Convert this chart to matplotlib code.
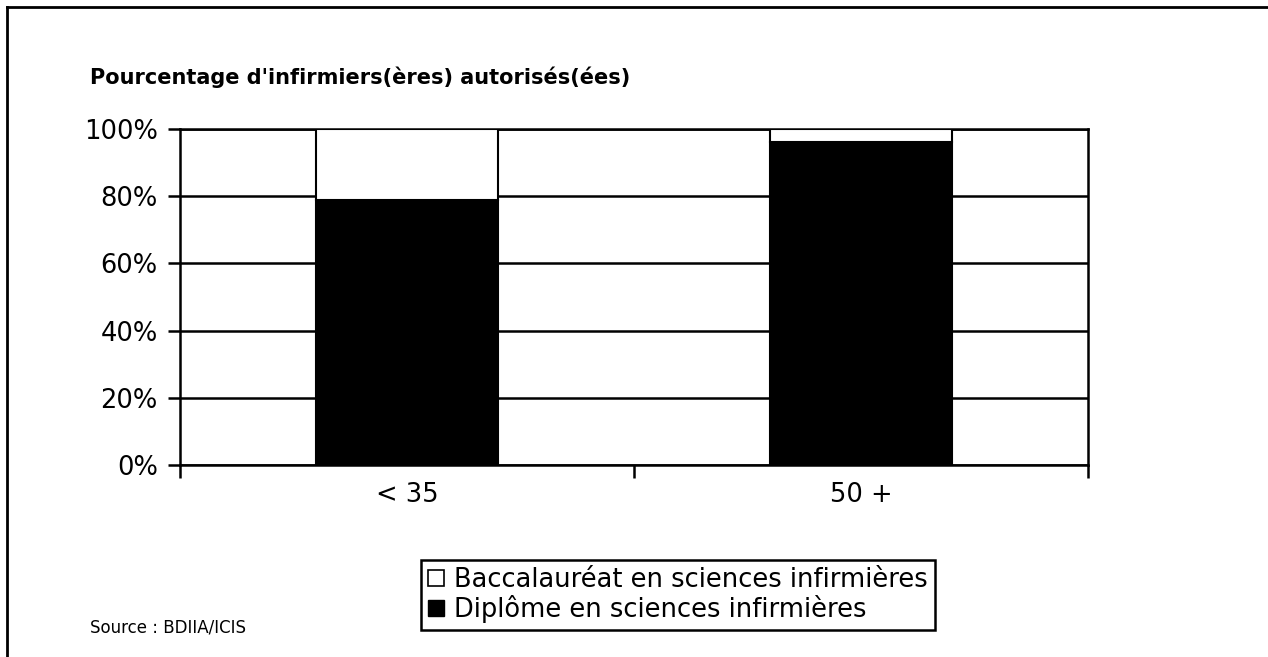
import numpy as np
import matplotlib.pyplot as plt
from matplotlib.lines import Line2D

# data
categories = ["< 35", "50 +"]
diplome = [79, 96]
baccalaureat = [21, 4]
series_names = ["Baccalauréat en sciences infirmières", "Diplôme en sciences infirmières"]

plt.rcParams['font.family'] = ['DejaVu Sans']

fig = plt.figure(figsize=(12.68, 6.57), dpi=100)
ax = fig.add_axes([180 / 1268, 1 - 465 / 657, 908 / 1268, 336 / 657])

x = np.arange(len(categories))
ax.bar(x, diplome, width=0.4, color="black", edgecolor="black", linewidth=1.5, zorder=3)
ax.bar(x, baccalaureat, bottom=diplome, width=0.4, color="white", edgecolor="black",
       linewidth=1.5, zorder=3)

ax.set_xlim(-0.5, len(categories) - 0.5)
ax.set_ylim(0, 100)
ax.set_yticks(np.arange(0, 101, 20))
ax.set_yticklabels([f"{v}%" for v in range(0, 101, 20)], fontsize=18.5)
ax.yaxis.grid(True, color="black", linewidth=1.8)
ax.set_axisbelow(True)

ax.set_xticks(np.arange(-0.5, len(categories), 1.0))
ax.set_xticklabels([])
ax.set_xticks(x, minor=True)
ax.set_xticklabels(categories, minor=True, fontsize=18.5)
ax.tick_params(axis="x", which="minor", length=0, pad=12)
ax.tick_params(axis="both", which="major", length=9, width=1.8, direction="out")
ax.tick_params(axis="y", pad=7)

for s in ax.spines.values():
    s.set_linewidth(1.8)

# title
fig.text(90 / 1268, 1 - 77 / 657, "Pourcentage d'infirmiers(ères) autorisés(ées)",
         fontsize=15, fontweight="bold", va="center", ha="left")

# legend
handles = [
    Line2D([], [], marker="s", linestyle="none", markersize=12, markerfacecolor="white",
           markeredgecolor="black", markeredgewidth=1.2),
    Line2D([], [], marker="s", linestyle="none", markersize=12, markerfacecolor="black",
           markeredgecolor="black"),
]
leg = fig.legend(handles, series_names, loc="center", bbox_to_anchor=(678 / 1268, 1 - 595 / 657),
                 fontsize=18.5, frameon=True, fancybox=False, edgecolor="black",
                 handlelength=0.6, handletextpad=0.4, labelspacing=0.05, borderpad=0.3,
                 borderaxespad=0)
leg.get_frame().set_linewidth(1.8)
leg.get_frame().set_alpha(1)

fig.text(90 / 1268, 1 - 628 / 657, "Source : BDIIA/ICIS", fontsize=12, va="center", ha="left")

# outer frame (top and left edges visible)
fig.add_artist(Line2D([7 / 1268, 1], [1 - 7 / 657, 1 - 7 / 657], color="black", linewidth=2,
                      transform=fig.transFigure))
fig.add_artist(Line2D([7 / 1268, 7 / 1268], [0, 1 - 7 / 657], color="black", linewidth=2,
                      transform=fig.transFigure))

fig.savefig("out.png", dpi=100)
